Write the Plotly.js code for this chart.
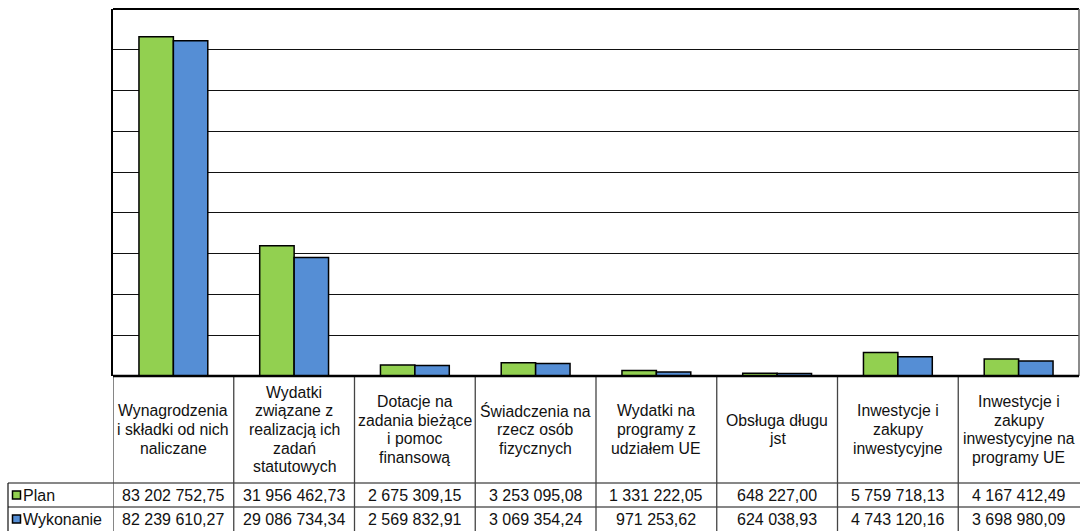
<!DOCTYPE html>
<html>
<head>
<meta charset="utf-8">
<script src="https://cdn.plot.ly/plotly-3.0.1.min.js"></script>
<style>
html,body{margin:0;padding:0;background:#fff;}
#chart{width:1080px;height:531px;}
</style>
</head>
<body>
<div id="chart"></div>
<script>
const categories = [
  "Wynagrodzenia<br>i składki od nich<br>naliczane",
  "Wydatki<br>związane z<br>realizacją ich<br>zadań<br>statutowych",
  "Dotacje na<br>zadania bieżące<br>i pomoc<br>finansową",
  "Świadczenia na<br>rzecz osób<br>fizycznych",
  "Wydatki na<br>programy z<br>udziałem UE",
  "Obsługa długu<br>jst",
  "Inwestycje i<br>zakupy<br>inwestycyjne",
  "Inwestycje i<br>zakupy<br>inwestycyjne na<br>programy UE"
];
const planValues = [83202752.75, 31956462.73, 2675309.15, 3253095.08, 1331222.05, 648227.00, 5759718.13, 4167412.49];
const wykonanieValues = [82239610.27, 29086734.34, 2569832.91, 3069354.24, 971253.62, 624038.93, 4743120.16, 3698980.09];
const seriesNames = ["Plan", "Wykonanie"];
const seriesColors = ["#92D050", "#558ED5"];

const W = 1080, H = 531;
const ML = 113, MR = 1, MT = 9, MB = 155;
const plotW = W - ML - MR, plotH = H - MT - MB;
const baseY = MT + plotH;
function py(p){ return (baseY - p) / plotH; }
function px(p){ return (p - ML) / plotW; }

function fmt(v){
  const s = v.toFixed(2).split(".");
  return s[0].replace(/\B(?=(\d{3})+(?!\d))/g, " ") + "," + s[1];
}

const xs = categories.map((c, i) => i);

const traces = [planValues, wykonanieValues].map((vals, k) => ({
  type: "bar",
  name: seriesNames[k],
  x: xs,
  y: vals,
  marker: {color: seriesColors[k], line: {color: "#000", width: 1.5}},
  hoverinfo: "skip"
}));

const font = {family: "Liberation Sans, Arial, sans-serif", size: 16, color: "#111"};
const hfont = {family: "Liberation Sans, Arial, sans-serif", size: 15.8, color: "#111"};
const lineStep = 18.6;
const shapes = [];
const annotations = [];

// plot border
shapes.push({type: "line", xref: "paper", yref: "paper", x0: 0, x1: 1, y0: 1, y1: 1, line: {color: "#000", width: 2}});
shapes.push({type: "line", xref: "paper", yref: "paper", x0: 1, x1: 1, y0: 0, y1: 1, line: {color: "#666", width: 1.5}});

const rowTop = 483, rowMid = 507, rowBot = 531;
[rowTop, rowMid].forEach(p => {
  shapes.push({type: "line", xref: "paper", yref: "paper", x0: px(8), x1: px(W), y0: py(p), y1: py(p), line: {color: "#111", width: 1.2}});
});
shapes.push({type: "line", xref: "paper", yref: "paper", x0: px(8), x1: px(8), y0: py(rowTop), y1: py(rowBot), line: {color: "#111", width: 1.2}});
for (let i = 0; i < categories.length; i++) {
  shapes.push({type: "line", xref: "x", yref: "paper", x0: i - 0.5, x1: i - 0.5, y0: py(baseY), y1: py(rowBot), line: {color: "#444", width: 1.3}});
}
shapes.push({type: "line", xref: "paper", yref: "paper", x0: 0, x1: 1, y0: 0, y1: 0, line: {color: "#000", width: 2.5}});

const headCenter = (baseY + rowTop) / 2;
categories.forEach((c, i) => {
  const lines = c.split("<br>");
  const n = lines.length;
  lines.forEach((ln, j) => {
    annotations.push({xref: "x", yref: "paper", x: i, y: py(headCenter + (j - (n - 1) / 2) * lineStep), text: ln, showarrow: false, xanchor: "center", yanchor: "middle", align: "center", font: hfont});
  });
  annotations.push({xref: "x", yref: "paper", x: i, y: py((rowTop + rowMid) / 2), text: fmt(planValues[i]), showarrow: false, xanchor: "center", yanchor: "middle", font: font});
  annotations.push({xref: "x", yref: "paper", x: i, y: py((rowMid + rowBot) / 2), text: fmt(wykonanieValues[i]), showarrow: false, xanchor: "center", yanchor: "middle", font: font});
});

[[rowTop, rowMid], [rowMid, rowBot]].forEach((r, k) => {
  const cy = (r[0] + r[1]) / 2;
  shapes.push({type: "rect", xref: "paper", yref: "paper", x0: px(12.5), x1: px(20.5), y0: py(cy - 4), y1: py(cy + 4), fillcolor: seriesColors[k], line: {color: "#000", width: 1.5}});
  annotations.push({xref: "paper", yref: "paper", x: px(21), y: py(cy), text: seriesNames[k], showarrow: false, xanchor: "left", yanchor: "middle", font: font});
});

const layout = {
  width: W, height: H,
  margin: {l: ML, r: MR, t: MT, b: MB, pad: 0},
  paper_bgcolor: "#fff", plot_bgcolor: "#fff",
  showlegend: false,
  barmode: "group", bargap: 0.43, bargroupgap: 0,
  xaxis: {range: [-0.5, 7.5], showticklabels: false, showgrid: false, zeroline: false, showline: false, ticks: "", fixedrange: true},
  yaxis: {range: [0, 90000000], dtick: 10000000, showticklabels: false, ticks: "", showgrid: true, gridcolor: "#111", gridwidth: 1, zeroline: false, showline: true, linecolor: "#000", linewidth: 2, fixedrange: true},
  shapes: shapes,
  annotations: annotations,
  font: font
};

Plotly.newPlot("chart", traces, layout, {displayModeBar: false, staticPlot: true});
</script>
</body>
</html>
